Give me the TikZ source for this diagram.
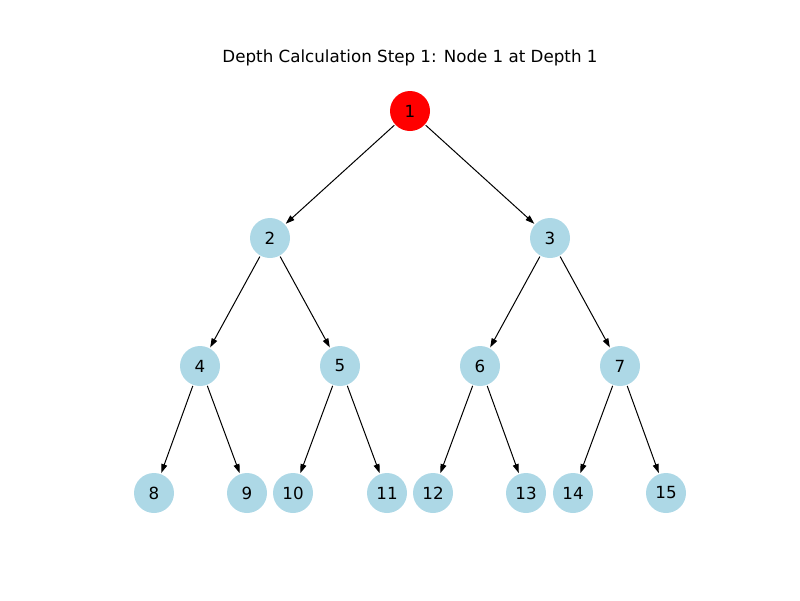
\documentclass[tikz,border=0pt]{standalone}
\usepackage{fontspec}
\setmainfont{DejaVu Sans}
\usetikzlibrary{arrows.meta}
\definecolor{lb}{HTML}{ADD8E6}
\tikzset{
  vert/.style={circle, fill=lb, draw=none, minimum size=40pt, inner sep=0pt, font=\fontsize{16.7}{20}\selectfont},
  hot/.style={vert, fill=red},
  edge/.style={-{Triangle[length=9pt,width=6pt]}, line width=1pt, shorten >=1pt, shorten <=1pt}
}
\begin{document}
\begin{tikzpicture}[x=1pt,y=-1pt]
\useasboundingbox (0,0) rectangle (800,600);
\node[font=\fontsize{16.7}{20}\selectfont] (title) at (410,58) {Depth Calculation Step 1: Node 1 at Depth 1};
\node[hot] (n1) at (410,111) {1};
\node[vert] (n2) at (270,238) {2};
\node[vert] (n3) at (550,238) {3};
\node[vert] (n4) at (200,366) {4};
\node[vert] (n5) at (340,366) {5};
\node[vert] (n6) at (480,366) {6};
\node[vert] (n7) at (620,366) {7};
\node[vert] (n8) at (154,493) {8};
\node[vert] (n9) at (247,493) {9};
\node[vert] (n10) at (293,493) {10};
\node[vert] (n11) at (387,493) {11};
\node[vert] (n12) at (433,493) {12};
\node[vert] (n13) at (526,493) {13};
\node[vert] (n14) at (573,493) {14};
\node[vert] (n15) at (666,493) {15};
\foreach \a/\b in {1/2,1/3,2/4,2/5,3/6,3/7,4/8,4/9,5/10,5/11,6/12,6/13,7/14,7/15}
  \draw[edge] (n\a) -- (n\b);
\end{tikzpicture}
\end{document}
